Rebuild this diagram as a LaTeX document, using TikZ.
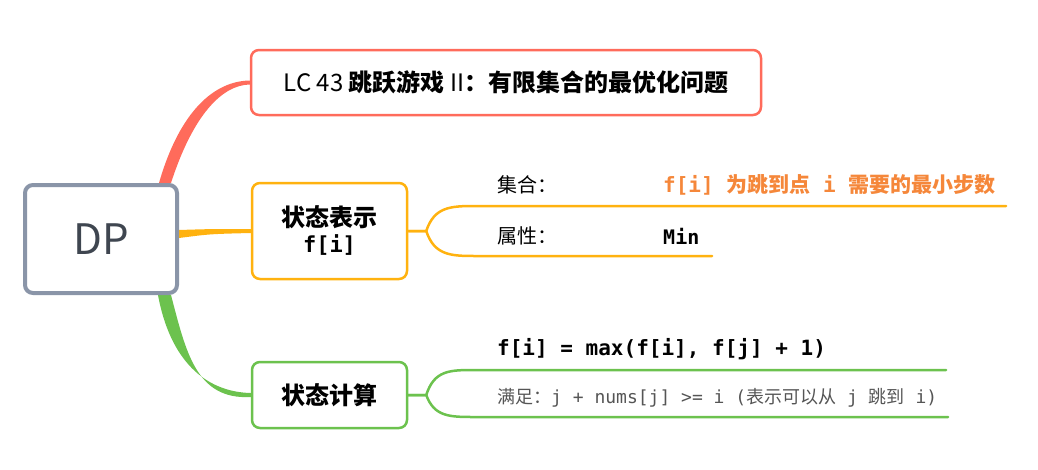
\documentclass[tikz,border=0pt]{standalone}
\usepackage{fontspec}
\setmainfont{Noto Sans CJK SC}
\newfontfamily\codefont{DejaVu Sans Mono}
\usetikzlibrary{backgrounds,calc}

\definecolor{rootline}{HTML}{8A95A8}
\definecolor{roottext}{HTML}{3F4650}
\definecolor{redline}{HTML}{FF6B5B}
\definecolor{orangeline}{HTML}{FFB20F}
\definecolor{greenline}{HTML}{6CC24E}
\definecolor{hilite}{HTML}{F5873A}
\definecolor{notetext}{HTML}{555555}

\begin{document}
\begin{tikzpicture}[
  x=1pt, y=-1pt,
  topic/.style={draw, fill=white, rounded corners=8pt, line width=2.5pt,
                inner sep=0pt, align=center, font=\bfseries\fontsize{24}{28}\selectfont},
  label/.style={anchor=west, inner sep=0pt, font=\fontsize{20}{22}\selectfont},
  code/.style={font=\codefont\bfseries\fontsize{21}{24}\selectfont},
  fork/.style={line width=2.5pt, line cap=round}
]
\useasboundingbox (0,0) rectangle (1038,469);

\node[topic, draw=rootline, line width=4pt, minimum width=152pt, minimum height=108pt,
      font=\fontsize{42}{46}\selectfont, text=roottext] (dp) at (101,239) {DP};
\node[topic, draw=redline, minimum width=510pt, minimum height=65pt] (title) at (506,82.5)
  {\mdseries LC 43 \bfseries 跳跃游戏 \mdseries II\bfseries ：有限集合的最优化问题};
\node[topic, draw=orangeline, minimum width=155pt, minimum height=96pt] (state) at (329.5,231)
  {状态表示\\[-2pt]{\codefont\fontsize{22}{24}\selectfont f[i]}};
\node[topic, draw=greenline, minimum width=155pt, minimum height=66pt] (calc) at (329.5,395) {状态计算};

% state branch
\node[label] (setkey) at (497,185) {集合：};
\node[label, font=\bfseries\fontsize{21}{24}\selectfont, text=hilite] (setval) at (663,185)
  {{\codefont f[i] }为跳到点{\codefont{} i }需要的最小步数};
\node[label] (propkey) at (497,236) {属性：};
\node[label, font=\codefont\bfseries\fontsize{20}{22}\selectfont] (propval) at (663,236) {Min};

% calc branch
\node[label, code] (eq) at (497,349) {f[i] = max(f[i], f[j] + 1)};
\node[label, text=notetext, font=\fontsize{18}{20}\selectfont] (cond) at (497,398)
  {满足：{\codefont j + nums[j] >= i (}表示可以从{\codefont{} j }跳到{\codefont{} i)}};

\coordinate (setend) at (1006,206);
\coordinate (propend) at (712,256);
\coordinate (eqend) at (946,370);
\coordinate (condend) at (948,417);

\begin{scope}[on background layer]
  \fill[redline] ($(dp.north east)+(-20,0)$) .. controls (180,110) and (215,81) .. ($(title.west)+(0,-2)$)
    -- ($(title.west)+(0,2)$) .. controls (222,85) and (193,115) .. ($(dp.north east)+(-8,0)$) -- cycle;
  \fill[orangeline] ($(dp.east)+(0,-9)$) .. controls (210,229) .. ($(state.west)+(0,-2)$)
    -- ($(state.west)+(0,2)$) .. controls (210,234) .. ($(dp.east)+(0,-1)$) -- cycle;
  \fill[greenline] ($(dp.south east)+(-21,0)$) .. controls (170,360) and (205,392) .. ($(calc.west)+(0,-2)$)
    -- ($(calc.west)+(0,2)$) .. controls (196,400) and (186,352) .. ($(dp.south east)+(-8,0)$) -- cycle;
\end{scope}

\draw[fork, orangeline] (state.east) -- ++(18,0) .. controls +(8,-24) and (450,206) .. (475,206) -- (setend);
\draw[fork, orangeline] (state.east) -- ++(18,0) .. controls +(8,24) and (450,256) .. (475,256) -- (propend);
\draw[fork, greenline] (calc.east) -- ++(18,0) .. controls +(8,-25) and (450,370) .. (475,370) -- (eqend);
\draw[fork, greenline] (calc.east) -- ++(18,0) .. controls +(8,22) and (450,417) .. (475,417) -- (condend);

\end{tikzpicture}
\end{document}
